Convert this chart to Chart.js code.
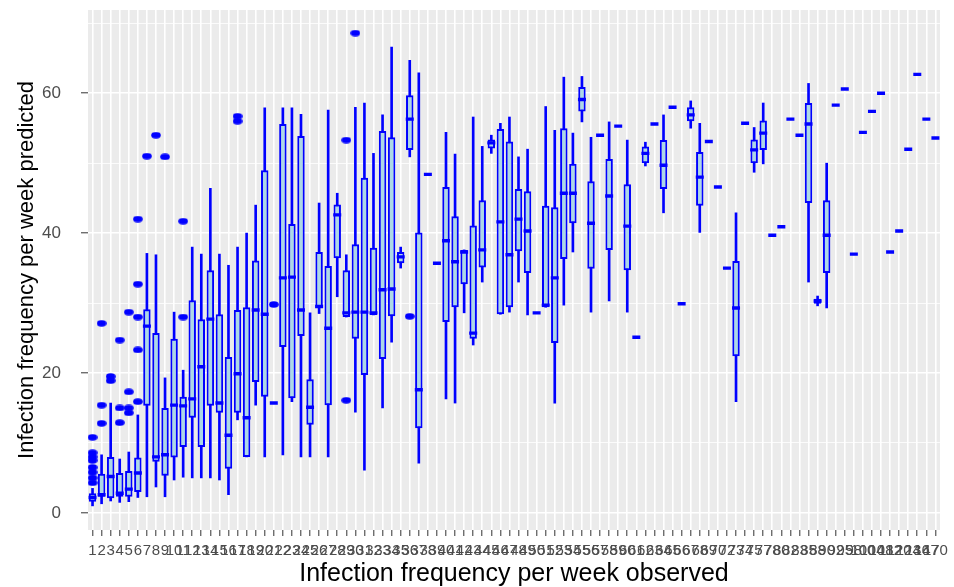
<!DOCTYPE html>
<html>
<head>
<meta charset="utf-8">
<script src="https://cdn.jsdelivr.net/npm/chart.js@4.4.1/dist/chart.umd.min.js"></script>
<style>
  html, body { margin: 0; padding: 0; background: #fff; }
  #wrap { width: 954px; height: 587px; }
</style>
</head>
<body>
<div id="wrap"><canvas id="c" width="954" height="587"></canvas></div>
<script>
// observed frequency categories (x tick labels)
const cats = ['1','2','3','4','5','6','7','8','9','10','11','12','13','14','15','16','17','18','19','20',
  '21','22','23','24','25','26','27','28','29','30','31','32','33','34','35','36','37','38','39','40',
  '41','42','43','44','45','46','47','48','49','50','51','52','53','54','55','56','57','58','59','60',
  '61','62','63','64','65','66','67','68','69','70','72','73','74','75','77','78','80','82','83','85',
  '88','90','92','95','98','100','104','108','112','120','124','136','147','170'];

// box stats of predicted frequency per category
const q1  = [1.6,2.3,2.1,2.3,2.3,3.0,15.3,7.3,5.3,7.9, 9.4,13.6,9.4,15.3,14.3,6.3,14.3,8.0,18.7,16.6,
  15.7,23.7,16.4,25.3,12.6,29.3,15.4,36.4,28.0,24.9, 19.7,28.3,22.0,28.1,35.7,51.9,12.1,48.4,35.7,27.3,
  29.4,32.7,24.9,35.1,52.1,28.4,29.4,37.4,34.3,28.6, 29.4,24.3,36.3,41.4,57.4,34.9,54.0,37.6,55.3,34.7,
  25.1,50.0,55.6,46.3,58.0,29.9,56.0,43.9,53.1,46.6, 35.0,22.4,55.7,50.0,51.9,39.7,40.9,56.3,54.0,44.3,
  29.9,34.3,58.3,60.6,37.0,54.4,57.4,60.0,37.3,40.3, 52.0,62.7,56.3,53.6];
const med = [2.2,2.6,5.2,2.8,3.4,5.7,26.7,8.0,8.3,15.4, 15.3,16.3,20.9,27.7,15.7,11.1,19.9,13.6,29.0,28.4,
  15.7,33.6,33.7,29.0,15.1,29.5,26.4,42.6,28.6,28.7, 28.7,28.6,31.9,32.0,36.6,56.3,17.6,48.4,35.7,38.9,
  35.9,37.3,25.7,37.6,52.9,41.6,36.9,42.0,40.3,28.6, 29.7,33.6,45.7,45.7,59.1,41.4,54.0,45.3,55.3,41.0,
  25.1,51.4,55.6,49.7,58.0,29.9,56.9,48.0,53.1,46.6, 35.0,29.3,55.7,51.9,54.3,39.7,40.9,56.3,54.0,55.6,
  30.3,39.7,58.3,60.6,37.0,54.4,57.4,60.0,37.3,40.3, 52.0,62.7,56.3,53.6];
const q3  = [2.8,5.6,8.0,5.7,6.0,7.9,29.1,25.7,15.0,24.9, 16.6,30.4,27.7,34.7,28.4,22.3,29.0,29.4,36.1,49.0,
  15.7,55.6,41.3,53.9,19.1,37.3,35.3,44.1,34.7,38.4, 47.9,37.9,54.6,53.7,37.3,59.7,40.1,48.4,35.7,46.6,
  42.4,37.6,41.1,44.7,53.4,54.9,53.1,46.3,46.0,28.6, 43.9,43.7,55.0,49.9,60.9,47.4,54.0,50.6,55.3,47.0,
  25.1,52.4,55.6,53.3,58.0,29.9,58.0,51.6,53.1,46.6, 35.0,36.0,55.7,53.4,56.1,39.7,40.9,56.3,54.0,58.6,
  30.6,44.7,58.3,60.6,37.0,54.4,57.4,60.0,37.3,40.3, 52.0,62.7,56.3,53.6];
const lo  = [1.0,1.3,1.7,1.5,1.6,2.2,2.3,3.7,2.3,4.7, 5.1,5.0,5.0,5.0,4.7,2.6,13.3,8.0,15.4,8.0,
  15.7,8.3,15.9,8.0,8.0,28.5,8.0,30.9,28.0,14.4, 6.1,28.3,15.0,24.4,35.0,50.9,7.1,48.4,35.7,16.3,
  15.7,28.6,24.0,33.0,51.4,28.4,28.7,33.0,28.3,28.6, 29.4,15.7,29.7,37.3,55.9,28.7,54.0,30.3,55.3,28.7,
  25.1,49.6,55.6,42.9,58.0,29.9,55.0,40.1,53.1,46.6, 35.0,15.9,55.7,48.7,49.9,39.7,40.9,56.3,54.0,33.0,
  29.6,29.3,58.3,60.6,37.0,54.4,57.4,60.0,37.3,40.3, 52.0,62.7,56.3,53.6];
const hi  = [3.5,8.3,15.7,7.7,8.7,14.0,37.1,36.9,19.3,28.7, 20.4,38.0,37.0,46.4,37.0,35.4,38.0,40.0,44.0,57.9,
  15.7,57.9,57.9,57.0,28.6,44.3,57.6,45.7,36.9,58.0, 58.6,51.4,56.9,66.6,38.0,64.7,62.9,48.4,35.7,54.4,
  51.3,37.6,56.6,52.4,54.0,55.7,56.6,50.9,52.0,28.6, 58.1,54.7,62.3,54.3,62.4,53.7,54.0,55.9,55.3,53.3,
  25.1,53.0,55.6,56.9,58.0,29.9,58.9,55.7,53.1,46.6, 35.0,42.9,55.7,55.1,58.6,39.7,40.9,56.3,54.0,61.4,
  31.0,50.0,58.3,60.6,37.0,54.4,57.4,60.0,37.3,40.3, 52.0,62.7,56.3,53.6];

// outliers: category index and value
const outCat = [0,0,0,0,0,0,0,0, 1,1,1, 2,2, 3,3,3, 4,4,4,4, 5,5,5,5,5, 6,7,8, 10,10, 16,16, 20, 28,28, 29, 35];
const outVal = [10.8,8.6,8.0,7.5,6.5,5.8,5.0,4.3, 27.1,15.4,12.8, 19.5,18.9, 24.7,15.0,12.9,
  28.7,17.3,15.0,14.3, 42.0,32.7,28.0,23.3,15.9, 51.0,54.0,50.9, 41.7,28.0, 56.7,56.0, 29.8, 53.3,16.1, 68.6, 28.1];

const BLUE = '#0000FF';
const FILL = '#ADD8E6';
const FONT = "'Liberation Sans', Arial, sans-serif";

// stretched dot like the reference
const dot = document.createElement('canvas');
dot.width = 10; dot.height = 7;
const dctx = dot.getContext('2d');
dctx.fillStyle = BLUE;
dctx.beginPath();
dctx.ellipse(5, 3.5, 4.8, 3.3, 0, 0, Math.PI * 2);
dctx.fill();

const panelBg = {
  id: 'panelBg',
  beforeDraw(chart) {
    const a = chart.chartArea, ctx = chart.ctx;
    ctx.save();
    ctx.fillStyle = '#EBEBEB';
    ctx.fillRect(a.left, a.top, a.right - a.left, a.bottom - a.top);
    ctx.restore();
  }
};

new Chart(document.getElementById('c'), {
  data: {
    labels: cats,
    datasets: [
      {
        type: 'bar',
        data: cats.map((c, i) => [lo[i], hi[i]]),
        backgroundColor: BLUE,
        barThickness: 2,
        grouped: false,
        order: 4
      },
      {
        type: 'bar',
        data: cats.map((c, i) => [q1[i], q3[i]]),
        backgroundColor: FILL,
        borderColor: BLUE,
        borderWidth: 2,
        borderSkipped: false,
        barPercentage: 0.82,
        categoryPercentage: 1,
        grouped: false,
        order: 3
      },
      {
        type: 'line',
        data: med,
        showLine: false,
        pointStyle: 'line',
        pointRadius: 4,
        pointBorderWidth: 3.4,
        pointBorderColor: BLUE,
        order: 2
      },
      {
        type: 'line',
        data: outCat.map((c, k) => ({ x: cats[c], y: outVal[k] })),
        showLine: false,
        pointStyle: dot,
        pointRadius: 4,
        order: 1
      }
    ]
  },
  options: {
    responsive: false,
    animation: false,
    events: [],
    layout: { padding: { left: 0, right: 13, top: 10, bottom: 0 } },
    plugins: { legend: { display: false }, tooltip: { enabled: false } },
    scales: {
      x: {
        type: 'category',
        offset: true,
        border: { display: false },
        grid: { offset: false, color: '#FFFFFF', lineWidth: 1.6, tickLength: 6, tickColor: '#333333', tickWidth: 1 },
        ticks: { autoSkip: false, maxRotation: 0, minRotation: 0, padding: 6, color: '#4D4D4D',
          font: { family: FONT, size: 15 } },
        title: { display: true, text: 'Infection frequency per week observed', color: '#000000',
          font: { family: FONT, size: 25, lineHeight: 1 }, padding: { top: 0, bottom: 0 } },
        afterFit(s) { s.height = 57; }
      },
      y: {
        min: -2.45,
        max: 71.9,
        border: { display: false },
        grid: {
          color: ctx => (ctx.tick && ctx.tick.value % 10 === 0) ? '#FFFFFF' : 'rgba(0,0,0,0)',
          lineWidth: ctx => (ctx.tick && ctx.tick.value % 20 === 0) ? 1.6 : 0.8,
          tickLength: 7,
          tickColor: ctx => (ctx.tick && ctx.tick.value % 20 === 0) ? '#333333' : 'rgba(0,0,0,0)',
          tickWidth: 1
        },
        ticks: {
          stepSize: 10,
          includeBounds: false,
          padding: 20,
          color: '#4D4D4D',
          font: { family: FONT, size: 17 },
          callback: v => (v % 20 === 0 ? v : '')
        },
        title: { display: true, text: 'Infection frequency per week predicted', color: '#000000',
          font: { family: FONT, size: 22, lineHeight: 1 }, padding: { top: 16, bottom: 0 } },
        afterFit(s) {
          s.width = 88;
          // tick padding should not push the panel down
          s.paddingTop = 0;
          s.paddingBottom = 0;
        }
      }
    }
  },
  plugins: [panelBg]
});
</script>
</body>
</html>
